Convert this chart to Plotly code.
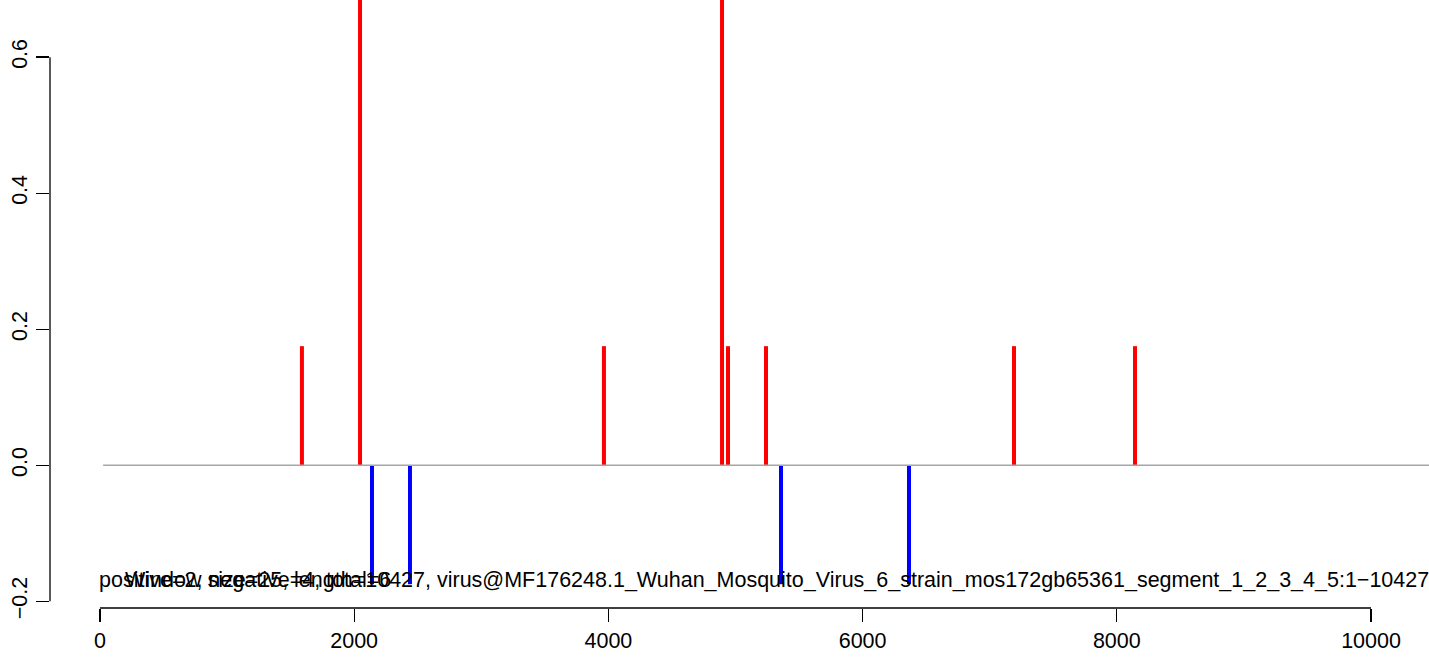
import plotly.graph_objects as go

# ---- data ----
pos_x = [1589, 2046, 3965, 4894, 4941, 5240, 7191, 8143]
pos_h = [0.175, 0.7, 0.175, 0.7, 0.175, 0.175, 0.175, 0.175]
neg_x = [2140, 2439, 5358, 6365]
neg_h = [-0.175, -0.175, -0.175, -0.175]
baseline_x = [25, 10500]
x_ticks = [0, 2000, 4000, 6000, 8000, 10000]
y_ticks = [-0.2, 0.0, 0.2, 0.4, 0.6]
y_labels = ["\u22120.2", "0.0", "0.2", "0.4", "0.6"]
label_counts = "positive=2, negative=4, total=6"
label_info = ("Window size=25, length=10427, virus@MF176248.1_Wuhan_Mosquito_Virus_6_"
              "strain_mos172gb65361_segment_1_2_3_4_5:1\u221210427")

FONT = "Liberation Sans, Arial, Helvetica, sans-serif"
FS = 21.5


def seg(xs, hs):
    X, Y = [], []
    for x, h in zip(xs, hs):
        X += [x, x, None]
        Y += [0, h, None]
    return X, Y


fig = go.Figure()
px_, py_ = seg(pos_x, pos_h)
fig.add_trace(go.Scatter(x=px_, y=py_, mode="lines",
                         line=dict(color="#FF0000", width=4), hoverinfo="skip"))
nx_, ny_ = seg(neg_x, neg_h)
fig.add_trace(go.Scatter(x=nx_, y=ny_, mode="lines",
                         line=dict(color="#0000FF", width=4), hoverinfo="skip"))
fig.add_trace(go.Scatter(x=baseline_x, y=[0, 0], mode="lines",
                         line=dict(color="#A6A6A6", width=1.6), hoverinfo="skip"))

shapes = [
    dict(type="line", xref="x", yref="paper", x0=min(x_ticks), x1=max(x_ticks),
         y0=0, y1=0, line=dict(color="black", width=1.3)),
    dict(type="line", xref="paper", yref="y", x0=0, x1=0,
         y0=min(y_ticks), y1=max(y_ticks), line=dict(color="black", width=1.3)),
]

annotations = [
    dict(x=-20, y=-0.169, xref="x", yref="y", text=label_counts, showarrow=False,
         xanchor="left", yanchor="middle", font=dict(family=FONT, size=FS, color="black")),
    dict(x=180, y=-0.169, xref="x", yref="y", text=label_info, showarrow=False,
         xanchor="left", yanchor="middle", font=dict(family=FONT, size=FS, color="black")),
]

fig.update_layout(
    width=1429, height=657,
    margin=dict(l=50, r=0, t=0, b=49),
    plot_bgcolor="white", paper_bgcolor="white",
    showlegend=False,
    shapes=shapes,
    annotations=annotations,
    font=dict(family=FONT, size=FS, color="black"),
    xaxis=dict(range=[-393, 10456], tickmode="array", tickvals=x_ticks,
               ticktext=[str(v) for v in x_ticks], automargin=False,
               showgrid=False, zeroline=False, showline=False,
               ticks="outside", ticklen=13, tickwidth=1.3, tickcolor="black",
               tickfont=dict(family=FONT, size=FS, color="black")),
    yaxis=dict(range=[-0.21, 0.684], tickmode="array", tickvals=y_ticks,
               ticktext=y_labels, tickangle=-90, automargin=False,
               showgrid=False, zeroline=False, showline=False,
               ticks="outside", ticklen=13, tickwidth=1.3, tickcolor="black",
               tickfont=dict(family=FONT, size=FS, color="black")),
)

fig.write_html("out.html",
               config={"displayModeBar": False, "staticPlot": True},
               post_script="document.body.style.margin='0px';document.body.style.overflow='hidden';")
